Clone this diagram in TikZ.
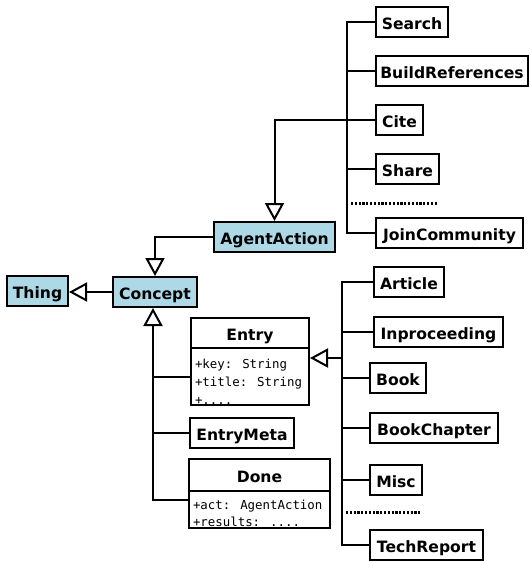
\documentclass[tikz,border=0pt]{standalone}
\usepackage{fontspec}
\setmainfont{DejaVu Sans}
\newfontfamily\monofont{DejaVu Sans Mono}
\usetikzlibrary{arrows.meta}
\definecolor{clsblue}{HTML}{ADD8E6}
\begin{document}
\begin{tikzpicture}[x=1pt,y=-1pt,line width=2pt,
  cls/.style={draw,line width=2pt,minimum height=30pt,inner sep=0pt,
    text height=14.6pt,text depth=0pt,
    font=\fontsize{15.6}{17}\bfseries\selectfont},
  bcls/.style={cls,fill=clsblue},
  attrbox/.style={draw,line width=2pt,inner sep=0pt},
  attr/.style={anchor=base west,inner sep=0pt,font=\monofont\fontsize{12.4}{14}\selectfont},
  gen/.style={-{Triangle[open,length=18pt,width=19pt,line width=2pt]}},
  dots/.style={line width=3pt,dash pattern=on 2.2pt off 1.6pt}
]
\useasboundingbox (0,0) rectangle (530,562);

% top hierarchy
\node[cls,minimum width=72pt]  (search) at (412,22)    {Search};
\node[cls,minimum width=152pt] (build)  at (452,71)    {BuildReferences};
\node[cls,minimum width=47pt]  (cite)   at (399.5,120) {Cite};
\node[cls,minimum width=63pt]  (share)  at (407.5,169) {Share};
\node[cls,minimum width=147pt] (join)   at (449.5,233) {JoinCommunity};
\node[bcls,minimum width=121pt] (aa)    at (274.5,237) {AgentAction};
\node[bcls,minimum width=61pt] (thing)  at (37.5,291) {Thing};
\node[bcls,minimum width=84pt] (concept) at (155,292)  {Concept};

% entry
\node[cls,minimum width=118pt] (entryT) at (250,333) {Entry};
\node[attrbox,minimum width=118pt,minimum height=57pt] (entryA) at (250,376.5) {};
\node[attr] (ea1) at (194,368) {+key: String};
\node[attr] (ea2) at (194,386) {+title: String};
\node[attr] (ea3) at (194,404) {+....};
\node[cls,minimum width=104pt] (meta) at (242,433) {EntryMeta};
\node[cls,minimum width=141pt,minimum height=32pt] (doneT) at (259.5,475) {Done};
\node[attrbox,minimum width=141pt,minimum height=37pt] (doneA) at (259.5,509.5) {};
\node[attr] (da1) at (192,509) {+act: AgentAction};
\node[attr] (da2) at (192,526) {+results: ....};

% entry subclasses
\node[cls,minimum width=70pt]  (article) at (409,282)   {Article};
\node[cls,minimum width=129pt] (inproc)  at (438.5,332) {Inproceeding};
\node[cls,minimum width=56pt]  (book)    at (398,378)   {Book};
\node[cls,minimum width=128pt] (chapter) at (434,428)   {BookChapter};
\node[cls,minimum width=52pt]  (misc)    at (396,480)   {Misc};
\node[cls,minimum width=113pt] (tech)    at (426.5,545) {TechReport};

% trunks
\coordinate (ta) at (347,0);
\coordinate (tb) at (342,0);
\coordinate (cb) at (153,0);
\coordinate (ej) at (342,358);
\coordinate (dj) at (0,500);

\draw (search.west) -- (search.west -| ta) -- (join.west -| ta) -- (join.west);
\draw (build.west) -- (build.west -| ta);
\draw (share.west) -- (share.west -| ta);
\draw[gen] (cite.west) -| (aa.north);
\draw[gen] (aa.west) -| (concept.north);
\draw[gen] (concept.west) -- (concept.west -| thing.east);

\draw[gen] (doneA.west |- dj) -| (cb |- concept.south);
\draw (entryA.west) -- (entryA.west -| cb);
\draw (meta.west) -- (meta.west -| cb);

\draw (article.west) -- (article.west -| tb) -- (tech.west -| tb) -- (tech.west);
\draw (inproc.west) -- (inproc.west -| tb);
\draw (book.west) -- (book.west -| tb);
\draw (chapter.west) -- (chapter.west -| tb);
\draw (misc.west) -- (misc.west -| tb);
\draw[gen] (ej) -- (ej -| entryA.east);

% ellipses
\draw[dots] (351,203) -- (437,203);
\draw[dots] (346,512) -- (421,512);
\end{tikzpicture}
\end{document}
